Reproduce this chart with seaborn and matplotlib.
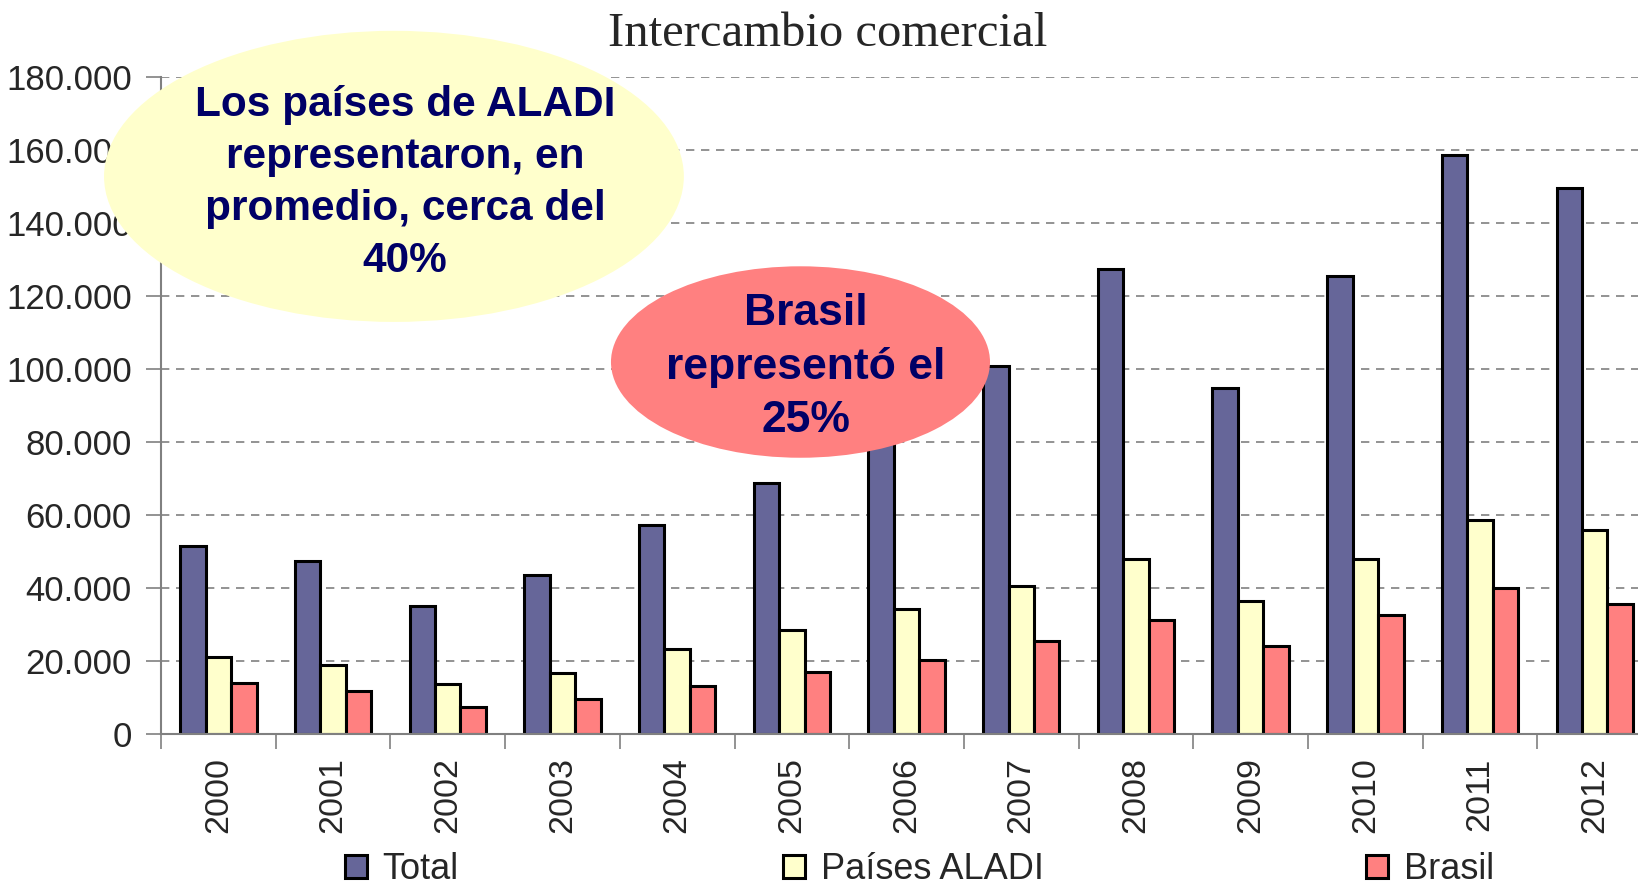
import matplotlib
matplotlib.use("Agg")
import matplotlib.pyplot as plt
import seaborn as sns
import pandas as pd
from matplotlib.patches import Ellipse
from matplotlib.ticker import FuncFormatter, MultipleLocator, FixedLocator

# --- datos ---
anios = ["2000", "2001", "2002", "2003", "2004", "2005", "2006",
         "2007", "2008", "2009", "2010", "2011", "2012"]
total = [51500, 47200, 34900, 43500, 57200, 68700, 82000,
         100700, 127400, 94700, 125400, 158600, 149700]
paises_aladi = [21000, 18800, 13700, 16600, 23200, 28300, 34100,
                40600, 47800, 36300, 47800, 58700, 55700]
brasil = [13800, 11600, 7300, 9400, 13100, 16800, 20300,
          25400, 31200, 23900, 32600, 39900, 35500]
series = ["Total", "Países ALADI", "Brasil"]
colores = ["#666699", "#FFFFCC", "#FF8080"]

df = pd.DataFrame({
    "anio": anios * 3,
    "valor": total + paises_aladi + brasil,
    "serie": [s for s in series for _ in anios],
})

sns.set_style("white")
plt.rcParams["font.family"] = ["Liberation Sans", "DejaVu Sans"]

fig = plt.figure(figsize=(16.38, 8.93), dpi=100)
ax = fig.add_axes([0.0983, 0.1784, 0.9103, 0.7354])

sns.barplot(data=df, x="anio", y="valor", hue="serie", hue_order=series,
            palette=colores, width=0.666, edgecolor="black", linewidth=2.2,
            saturation=1, ax=ax)

handles, labels = ax.get_legend_handles_labels()
ax.get_legend().remove()

ax.set_xlim(-0.5, 12.5)
ax.set_ylim(0, 180000)
ax.yaxis.set_major_locator(MultipleLocator(20000))
ax.yaxis.set_major_formatter(FuncFormatter(lambda v, p: f"{v:,.0f}".replace(",", ".")))
ax.grid(axis="y", color="#808080", linestyle=(0, (5, 4)), linewidth=1.2)
ax.set_axisbelow(True)
ax.set_xlabel("")
ax.set_ylabel("")

for s in ["top", "right"]:
    ax.spines[s].set_visible(False)
for s in ["left", "bottom"]:
    ax.spines[s].set_color("#808080")
    ax.spines[s].set_linewidth(1.5)

ax.tick_params(axis="y", direction="out", length=11, width=1.2, color="#808080",
               labelsize=25, pad=10, left=True)
ax.tick_params(axis="x", which="major", length=0, labelsize=24.5, pad=17,
               labelrotation=90)
ax.xaxis.set_minor_locator(FixedLocator([i - 0.5 for i in range(14)]))
ax.tick_params(axis="x", which="minor", direction="out", length=11, width=1.2,
               color="#808080", bottom=True)

# titulo
fig.text(0.505, 0.962, "Intercambio comercial", ha="center", va="center",
         fontsize=35, family=["Liberation Serif", "DejaVu Serif"])

# leyenda
for h, l, x in zip(handles, labels, [0.2106, 0.478, 0.834]):
    fig.legend([h], [l], loc="center left", bbox_to_anchor=(x, 0.026),
               frameon=False, fontsize=26, handlelength=0.62, handleheight=0.62,
               handletextpad=0.42, borderpad=0, borderaxespad=0)

# globos
e1 = Ellipse((0.2405, 0.8025), 0.354, 0.326, transform=fig.transFigure,
             facecolor="#FFFFCC", edgecolor="none", zorder=5)
fig.add_artist(e1)
fig.text(0.2473, 0.795, "Los países de ALADI\nrepresentaron, en\npromedio, cerca del\n40%",
         ha="center", va="center", fontsize=30.5, fontweight="bold",
         color="#000066", zorder=6, linespacing=1.38)

e2 = Ellipse((0.4887, 0.5946), 0.2314, 0.2144, transform=fig.transFigure,
             facecolor="#FF8080", edgecolor="none", zorder=5)
fig.add_artist(e2)
fig.text(0.492, 0.589, "Brasil\nrepresentó el\n25%", ha="center", va="center",
         fontsize=32, fontweight="bold", color="#000066", zorder=6,
         linespacing=1.4)

fig.savefig("out.png", dpi=100)
